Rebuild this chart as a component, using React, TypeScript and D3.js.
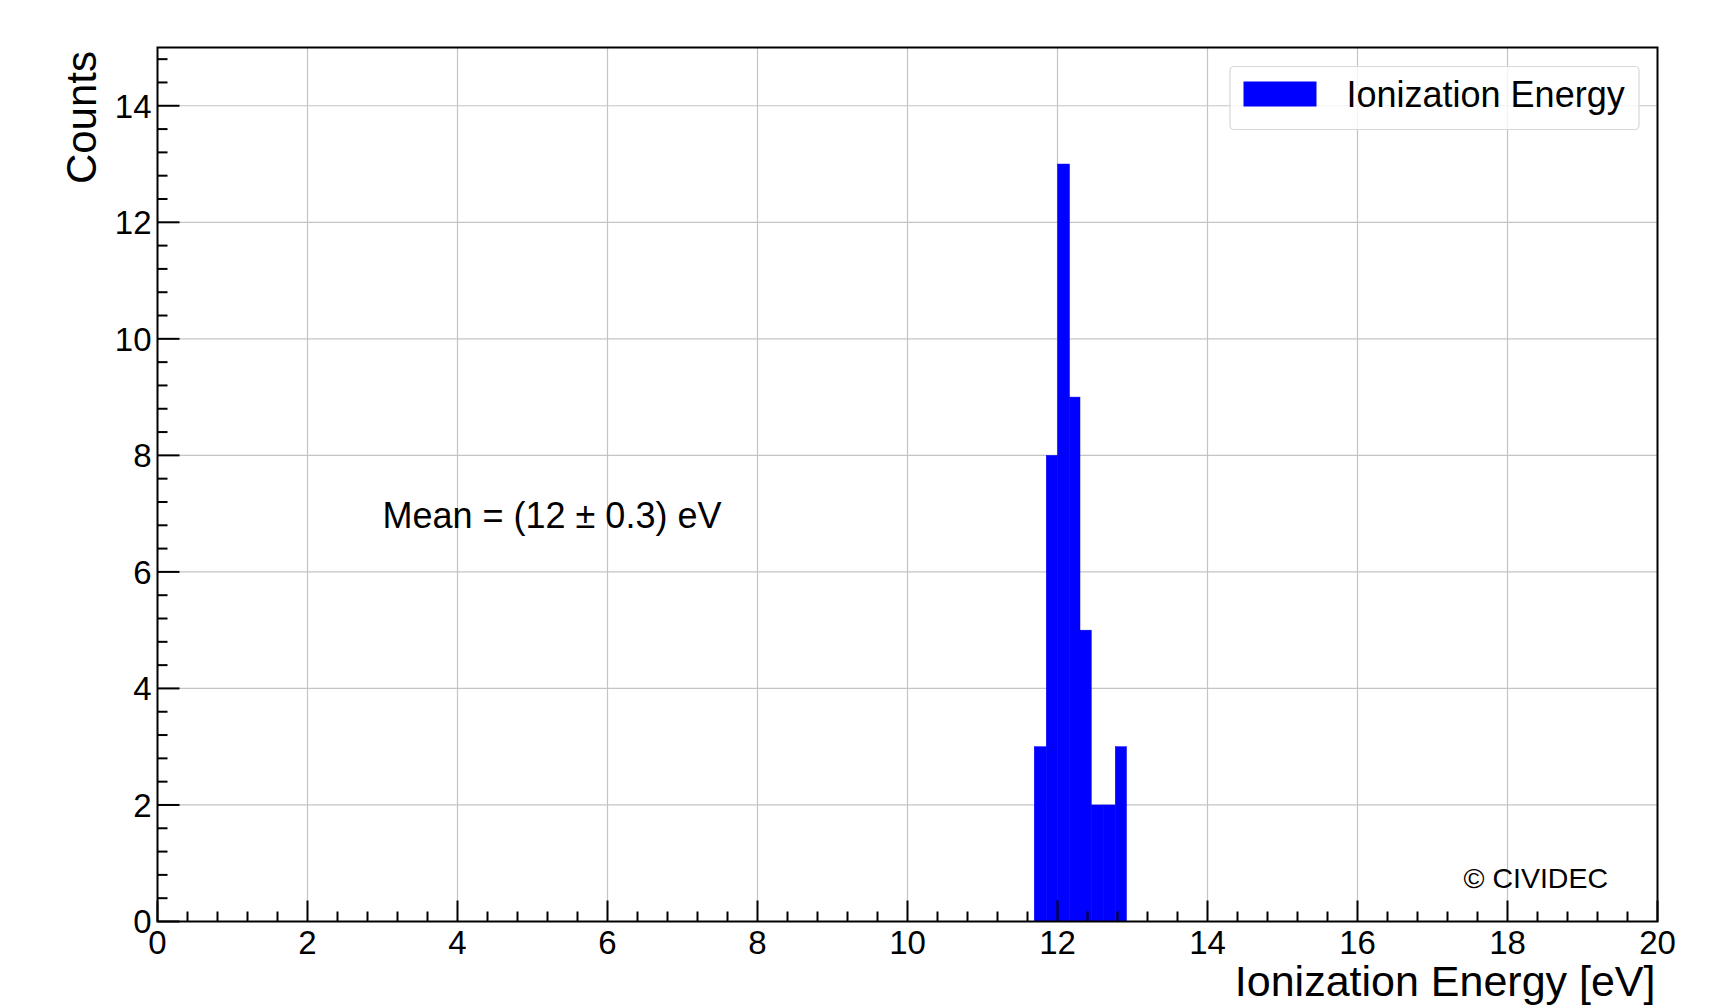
import * as d3 from 'd3'
import { useEffect, useRef } from 'react'

// histogram of ionization energy measurements
const binEdges = [11.69, 11.85, 12.0, 12.16, 12.3, 12.45, 12.61, 12.77, 12.92]
const counts = [3, 8, 13, 9, 5, 2, 2, 3]
const xTicks = [0, 2, 4, 6, 8, 10, 12, 14, 16, 18, 20]
const yTicks = [0, 2, 4, 6, 8, 10, 12, 14]
const meanLabel = 'Mean = (12 ± 0.3) eV'
const meanPos = [3, 7]
const seriesName = 'Ionization Energy'

const W = 1716, H = 1007
const left = 157.5, right = 1657.5, top = 47.5, bottom = 921.5
const font = 'Liberation Sans, Arial, sans-serif'

export default function App() {
    const svgRef = useRef(null)

    useEffect(() => {
        const svg = d3.select(svgRef.current)
        svg.selectAll('*').remove()

        const x = d3.scaleLinear().domain([0, 20]).range([left, right])
        const y = d3.scaleLinear().domain([0, 15]).range([bottom, top])

        svg.append('rect').attr('width', W).attr('height', H).attr('fill', 'white')

        // grid
        const grid = svg.append('g').attr('stroke', '#c4c4c4').attr('stroke-width', 1.2)
        grid.selectAll('.gx').data(xTicks.slice(1, -1)).join('line')
            .attr('x1', d => x(d)).attr('x2', d => x(d))
            .attr('y1', top).attr('y2', bottom)
        grid.selectAll('.gy').data(yTicks.slice(1)).join('line')
            .attr('y1', d => y(d)).attr('y2', d => y(d))
            .attr('x1', left).attr('x2', right)

        // bars
        const bins = counts.map((c, i) => ({ x0: binEdges[i], x1: binEdges[i + 1], c }))
        svg.append('g').selectAll('rect').data(bins).join('rect')
            .attr('x', d => x(d.x0))
            .attr('width', d => x(d.x1) - x(d.x0))
            .attr('y', d => y(d.c))
            .attr('height', d => y(0) - y(d.c))
            .attr('fill', '#0000ff')
            .attr('stroke', '#0000ff')
            .attr('stroke-width', 0.5)

        // ticks (inward) with minors every 0.4
        const ticks = svg.append('g').attr('stroke', 'black').attr('stroke-width', 2)
        const xMinor = d3.range(0, 20.001, 0.4)
        ticks.selectAll('.tx').data(xMinor).join('line')
            .attr('x1', d => x(d)).attr('x2', d => x(d))
            .attr('y1', bottom)
            .attr('y2', d => bottom - (Math.abs(d / 2 - Math.round(d / 2)) < 1e-6 ? 21 : 10))
        const yMinor = d3.range(0, 15.001, 0.4)
        ticks.selectAll('.ty').data(yMinor).join('line')
            .attr('y1', d => y(d)).attr('y2', d => y(d))
            .attr('x1', left)
            .attr('x2', d => left + (Math.abs(d / 2 - Math.round(d / 2)) < 1e-6 ? 22 : 10))

        // frame
        svg.append('rect')
            .attr('x', left).attr('y', top)
            .attr('width', right - left).attr('height', bottom - top)
            .attr('fill', 'none').attr('stroke', 'black').attr('stroke-width', 2)

        // tick labels
        svg.append('g').selectAll('text').data(xTicks).join('text')
            .attr('x', d => x(d)).attr('y', 954)
            .attr('text-anchor', 'middle')
            .style('font', `33px ${font}`)
            .text(d => d)
        svg.append('g').selectAll('text').data(yTicks).join('text')
            .attr('x', left - 6).attr('y', d => y(d) + 11.8)
            .attr('text-anchor', 'end')
            .style('font', `33px ${font}`)
            .text(d => d)

        // axis titles
        svg.append('text')
            .attr('x', right - 2).attr('y', 996)
            .attr('text-anchor', 'end')
            .style('font', `43px ${font}`)
            .text('Ionization Energy [eV]')
        svg.append('text')
            .attr('transform', `translate(96, 51) rotate(-90)`)
            .attr('text-anchor', 'end')
            .style('font', `42px ${font}`)
            .text('Counts')

        // annotations
        svg.append('text')
            .attr('x', x(meanPos[0])).attr('y', y(meanPos[1]) + 14.5)
            .style('font', `36px ${font}`)
            .text(meanLabel)
        svg.append('text')
            .attr('x', 1608).attr('y', 888)
            .attr('text-anchor', 'end')
            .style('font', `28.5px ${font}`)
            .text('© CIVIDEC')

        // legend
        const lg = svg.append('g')
        lg.append('rect')
            .attr('x', 1230).attr('y', 66.5).attr('width', 409).attr('height', 63)
            .attr('rx', 4)
            .attr('fill', 'white').attr('fill-opacity', 0.8)
            .attr('stroke', '#d8d8d8').attr('stroke-width', 1.2)
        lg.append('rect')
            .attr('x', 1243.5).attr('y', 81.5).attr('width', 73).attr('height', 25)
            .attr('fill', '#0000ff')
        lg.append('text')
            .attr('x', 1346.5).attr('y', 106.5)
            .style('font', `36px ${font}`)
            .text(seriesName)
    }, [])

    return (
        <svg ref={svgRef} width={W} height={H}
            style={{ position: 'absolute', left: 0, top: 0, display: 'block' }} />
    )
}
